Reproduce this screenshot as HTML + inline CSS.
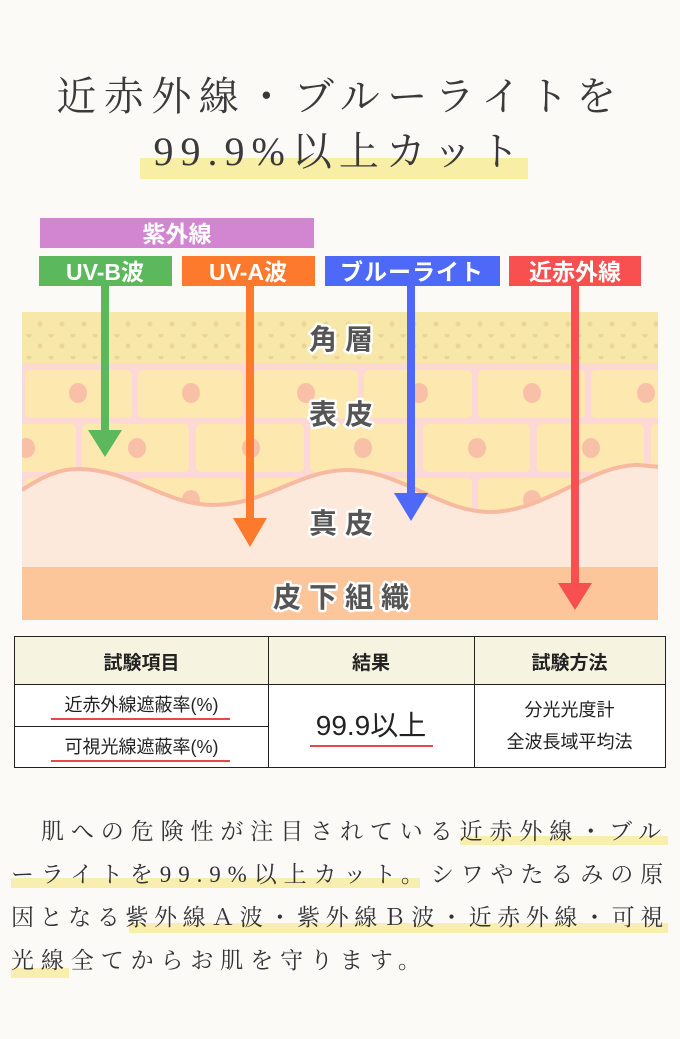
<!DOCTYPE html>
<html><head><meta charset="utf-8"><style>
html,body{margin:0;padding:0}
body{width:680px;height:1039px;background:#fcfaf6;position:relative;overflow:hidden;font-family:"Liberation Serif","Noto Serif CJK SC",serif;color:#333}
.t{position:absolute;white-space:nowrap}
.hl{position:absolute;background:#f8eeb0}
</style></head><body>
<div class="hl" style="left:140px;top:158px;width:388px;height:21px;background:#f9eea6"></div>
<div class="t" style="left:0;width:680px;text-align:center;top:72px;font-size:40px;letter-spacing:7.5px;color:#3a3a3a;line-height:50px">近赤外線・ブルーライトを</div>
<div class="t" style="left:0;width:680px;text-align:center;top:127px;font-size:40px;letter-spacing:7px;color:#3a3a3a;line-height:50px">99.9%以上カット</div>

<svg width="680" height="640" style="position:absolute;left:0;top:0" xmlns="http://www.w3.org/2000/svg">
<defs>
<pattern id="dots" x="0" y="0" width="22" height="22" patternUnits="userSpaceOnUse">
<circle cx="7" cy="1" r="2.5" fill="#e8d598"/><circle cx="18" cy="12" r="2.5" fill="#e8d598"/>
</pattern>
<clipPath id="skin"><rect x="22" y="312" width="636" height="308"/></clipPath>
</defs>
<g clip-path="url(#skin)">
<rect x="22" y="312" width="636" height="51" fill="#f7e7a9"/>
<rect x="22" y="312" width="636" height="51" fill="url(#dots)" transform="translate(0,4)"/>
<rect x="22" y="363" width="636" height="204" fill="#fcd9d6"/>
<g fill="#fde8b0">
<rect x="25" y="370" width="107" height="48" rx="5"/><rect x="138" y="370" width="105" height="48" rx="5"/><rect x="254" y="370" width="104" height="48" rx="5"/><rect x="364" y="370" width="108" height="48" rx="5"/><rect x="478" y="370" width="107" height="48" rx="5"/><rect x="591" y="370" width="70" height="48" rx="5"/>
<rect x="15" y="424" width="61" height="48" rx="5"/><rect x="82" y="424" width="107" height="48" rx="5"/><rect x="196" y="424" width="108" height="48" rx="5"/><rect x="310" y="424" width="107" height="48" rx="5"/><rect x="423" y="424" width="107" height="48" rx="5"/><rect x="537" y="424" width="107" height="48" rx="5"/><rect x="651" y="424" width="20" height="48" rx="5"/>
<rect x="25" y="478" width="107" height="48" rx="5"/><rect x="138" y="478" width="105" height="48" rx="5"/><rect x="254" y="478" width="104" height="48" rx="5"/><rect x="364" y="478" width="108" height="48" rx="5"/><rect x="478" y="478" width="107" height="48" rx="5"/><rect x="591" y="478" width="70" height="48" rx="5"/>
</g>
<g fill="#f9c0a8">
<ellipse cx="78" cy="393" rx="9" ry="10"/><ellipse cx="191" cy="393" rx="9" ry="10"/><ellipse cx="306" cy="393" rx="9" ry="10"/><ellipse cx="419" cy="393" rx="9" ry="10"/><ellipse cx="532" cy="393" rx="9" ry="10"/><ellipse cx="646" cy="393" rx="9" ry="10"/>
<ellipse cx="26" cy="448" rx="9" ry="10"/><ellipse cx="137" cy="448" rx="9" ry="10"/><ellipse cx="251" cy="448" rx="9" ry="10"/><ellipse cx="363" cy="448" rx="9" ry="10"/><ellipse cx="477" cy="448" rx="9" ry="10"/><ellipse cx="591" cy="448" rx="9" ry="10"/>
<ellipse cx="191" cy="500" rx="9" ry="10"/><ellipse cx="532" cy="500" rx="9" ry="10"/>
</g>
<path d="M22,490 C45,475 60,469 78,469 C130,469 165,505 213,505 C265,505 300,470 347,470 C400,470 440,512 490,512 C545,512 590,465 638,465 L660,467 L660,567 L22,567 Z" fill="#fde8dc"/>
<path d="M22,490 C45,475 60,469 78,469 C130,469 165,505 213,505 C265,505 300,470 347,470 C400,470 440,512 490,512 C545,512 590,465 638,465 L660,467" fill="none" stroke="#f7b9a0" stroke-width="4"/>
<rect x="22" y="567" width="636" height="53" fill="#fdc59a"/>
</g>
<g font-family="Liberation Sans,Noto Sans CJK JP,sans-serif" font-weight="bold" font-size="28" fill="#555" stroke="#fff" stroke-width="5" paint-order="stroke" stroke-linejoin="round" text-anchor="middle" letter-spacing="8">
<text x="345" y="349">角層</text><text x="345" y="424">表皮</text><text x="345" y="533">真皮</text><text x="345" y="607">皮下組織</text>
</g>
<rect x="40" y="218" width="274" height="30" fill="#d286d2"/>
<rect x="39" y="256" width="133" height="30" fill="#5cb85c"/>
<rect x="182" y="256" width="133" height="30" fill="#fd7a2c"/>
<rect x="325" y="256" width="175" height="30" fill="#4e68f8"/>
<rect x="509" y="256" width="132" height="30" fill="#f85050"/>
<g font-family="Liberation Sans,Noto Sans CJK JP,sans-serif" font-weight="bold" font-size="23" fill="#fff" text-anchor="middle">
<text x="177" y="242">紫外線</text>
<text x="105" y="280">UV-B波</text><text x="248" y="280">UV-A波</text><text x="412" y="280" letter-spacing="1">ブルーライト</text><text x="575" y="280">近赤外線</text>
</g>
<g stroke-width="8">
<line x1="105" y1="286" x2="105" y2="432" stroke="#5cb85c"/>
<line x1="250" y1="286" x2="250" y2="520" stroke="#fd7a2c"/>
<line x1="411" y1="286" x2="411" y2="495" stroke="#4e68f8"/>
<line x1="575" y1="286" x2="575" y2="585" stroke="#f85050"/>
</g>
<polygon points="88,430 122,430 105,457" fill="#5cb85c"/>
<polygon points="233,518 267,518 250,547" fill="#fd7a2c"/>
<polygon points="394,493 428,493 411,521" fill="#4e68f8"/>
<polygon points="558,583 592,583 575,610" fill="#f85050"/>
</svg>

<div style="position:absolute;left:14px;top:636px;width:650px;height:130px;border:1.5px solid #222;background:#fff;font-family:'Liberation Sans','Noto Sans CJK JP',sans-serif;color:#222">
<div style="position:absolute;left:0;top:0;width:650px;height:47px;background:#f6f3e0;border-bottom:1px solid #222"></div>
<div style="position:absolute;left:253px;top:0;width:1px;height:130px;background:#222"></div>
<div style="position:absolute;left:459px;top:0;width:1px;height:130px;background:#222"></div>
<div style="position:absolute;left:0;top:89px;width:253px;height:1px;background:#222"></div>
<div class="t" style="left:0;width:253px;text-align:center;top:11px;font-size:19px;font-weight:bold">試験項目</div>
<div class="t" style="left:253px;width:206px;text-align:center;top:11px;font-size:19px;font-weight:bold">結果</div>
<div class="t" style="left:459px;width:191px;text-align:center;top:11px;font-size:19px;font-weight:bold">試験方法</div>
<div class="t" style="left:0;width:253px;text-align:center;top:54px;font-size:18px">近赤外線遮蔽率(%)</div>
<div style="position:absolute;left:36px;top:81px;width:179px;height:2px;background:#e84848"></div>
<div class="t" style="left:0;width:253px;text-align:center;top:96px;font-size:18px">可視光線遮蔽率(%)</div>
<div style="position:absolute;left:36px;top:123px;width:179px;height:2px;background:#e84848"></div>
<div class="t" style="left:253px;width:206px;text-align:center;top:67px;font-size:28px">99.9以上</div>
<div style="position:absolute;left:295px;top:108px;width:123px;height:2px;background:#e84848"></div>
<div class="t" style="left:459px;width:191px;text-align:center;top:59px;font-size:18px">分光光度計</div>
<div class="t" style="left:459px;width:191px;text-align:center;top:91px;font-size:18px">全波長域平均法</div>
</div>

<div class="hl" style="left:460px;top:836px;width:208px;height:9px"></div>
<div class="hl" style="left:11px;top:878px;width:409px;height:10px"></div>
<div class="hl" style="left:129px;top:923px;width:539px;height:10px"></div>
<div class="hl" style="left:11px;top:968px;width:58px;height:10px"></div>
<div class="t" style="left:41px;top:815px;font-size:23px;letter-spacing:6.9px;line-height:34px">肌への危険性が注目されている近赤外線・ブル</div>
<div class="t" style="left:11px;top:858px;font-size:23px;letter-spacing:6.9px;line-height:34px">ーライトを99.9%以上カット。シワやたるみの原</div>
<div class="t" style="left:11px;top:901px;font-size:23px;letter-spacing:5.6px;line-height:34px">因となる紫外線Ａ波・紫外線Ｂ波・近赤外線・可視</div>
<div class="t" style="left:11px;top:944px;font-size:23px;letter-spacing:6.9px;line-height:34px">光線全てからお肌を守ります。</div>
</body></html>
